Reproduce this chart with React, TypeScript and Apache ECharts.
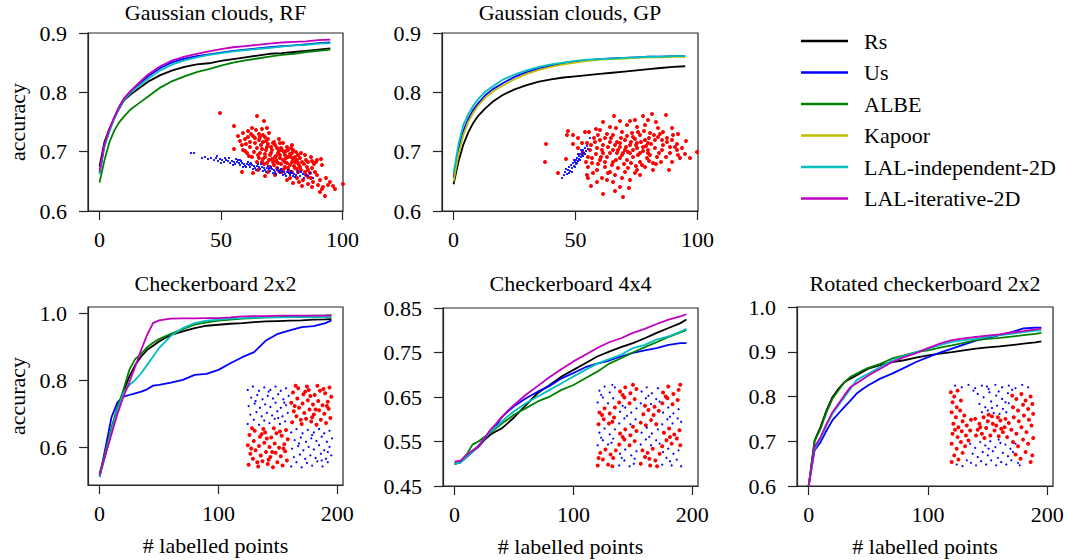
import React, { useEffect, useRef } from 'react';
import * as echarts from 'echarts';

// ---------- names & colours ----------
const METHODS = ['Rs', 'Us', 'ALBE', 'Kapoor', 'LAL-independent-2D', 'LAL-iterative-2D'];
const METHOD_COLORS: Record<string, string> = {
  'Rs': '#000000',
  'Us': '#0000ff',
  'ALBE': '#008000',
  'Kapoor': '#bfbf00',
  'LAL-independent-2D': '#00bfbf',
  'LAL-iterative-2D': '#bf00bf',
};
const TITLES = ['Gaussian clouds, RF', 'Gaussian clouds, GP', 'Checkerboard 2x2', 'Checkerboard 4x4', 'Rotated checkerboard 2x2'];

// ---------- x samples ----------
const xTop = [0, 2, 4, 6, 8, 10, 13, 16, 20, 25, 30, 35, 40, 45, 50, 55, 60, 65, 70, 75, 80, 85, 90, 95];
const xBottom = [0, 5, 10, 15, 20, 25, 30, 35, 40, 45, 50, 60, 70, 80, 90, 100, 110, 120, 130, 140, 150, 160, 170, 180, 190, 195];

// ---------- tick values ----------
const topXTicks = [0, 50, 100];
const bottomXTicks = [0, 100, 200];
const topYTicks = [0.6, 0.7, 0.8, 0.9];
const cb2YTicks = [0.6, 0.8, 1.0];
const cb4YTicks = [0.45, 0.55, 0.65, 0.75, 0.85];
const rotYTicks = [0.6, 0.7, 0.8, 0.9, 1.0];

// ---------- Gaussian clouds, RF ----------
const rfRs = [0.675, 0.716, 0.738, 0.756, 0.772, 0.786, 0.797, 0.806, 0.818, 0.829, 0.837, 0.843, 0.847, 0.849, 0.853, 0.856, 0.859, 0.862, 0.865, 0.866, 0.868, 0.870, 0.872, 0.874];
const rfUs = [0.664, 0.710, 0.735, 0.757, 0.775, 0.789, 0.803, 0.813, 0.827, 0.841, 0.851, 0.857, 0.861, 0.864, 0.867, 0.870, 0.872, 0.874, 0.876, 0.878, 0.879, 0.881, 0.883, 0.884];
const rfALBE = [0.648, 0.685, 0.715, 0.735, 0.749, 0.759, 0.772, 0.781, 0.793, 0.808, 0.819, 0.827, 0.834, 0.839, 0.845, 0.850, 0.854, 0.857, 0.860, 0.863, 0.865, 0.868, 0.870, 0.872];
const rfLALind = [0.662, 0.708, 0.733, 0.755, 0.773, 0.787, 0.800, 0.810, 0.823, 0.837, 0.847, 0.854, 0.859, 0.863, 0.866, 0.869, 0.871, 0.873, 0.875, 0.877, 0.879, 0.880, 0.882, 0.883];
const rfLALiter = [0.667, 0.712, 0.737, 0.757, 0.775, 0.789, 0.803, 0.815, 0.830, 0.844, 0.854, 0.860, 0.865, 0.869, 0.873, 0.876, 0.878, 0.880, 0.882, 0.884, 0.885, 0.886, 0.888, 0.889];

// ---------- Gaussian clouds, GP ----------
const gpRs = [0.645, 0.683, 0.712, 0.732, 0.748, 0.760, 0.773, 0.784, 0.795, 0.805, 0.812, 0.818, 0.822, 0.825, 0.827, 0.829, 0.831, 0.833, 0.835, 0.837, 0.839, 0.841, 0.843, 0.844];
const gpUs = [0.656, 0.703, 0.735, 0.755, 0.770, 0.781, 0.795, 0.805, 0.815, 0.826, 0.834, 0.840, 0.845, 0.849, 0.852, 0.854, 0.856, 0.857, 0.858, 0.859, 0.860, 0.860, 0.861, 0.861];
const gpKapoor = [0.650, 0.695, 0.728, 0.750, 0.765, 0.777, 0.791, 0.801, 0.811, 0.822, 0.831, 0.838, 0.843, 0.847, 0.850, 0.853, 0.855, 0.856, 0.857, 0.858, 0.859, 0.859, 0.860, 0.860];
const gpLALind = [0.664, 0.712, 0.745, 0.763, 0.777, 0.788, 0.801, 0.810, 0.821, 0.830, 0.837, 0.843, 0.847, 0.850, 0.853, 0.855, 0.856, 0.857, 0.858, 0.859, 0.860, 0.860, 0.861, 0.861];

// ---------- Checkerboard 2x2 ----------
const cb2Rs = [0.520, 0.580, 0.650, 0.710, 0.767, 0.812, 0.847, 0.872, 0.892, 0.904, 0.917, 0.937, 0.947, 0.957, 0.964, 0.967, 0.970, 0.972, 0.975, 0.977, 0.978, 0.979, 0.980, 0.982, 0.983, 0.984];
const cb2Us = [0.512, 0.600, 0.690, 0.735, 0.752, 0.757, 0.762, 0.767, 0.774, 0.785, 0.787, 0.794, 0.802, 0.817, 0.820, 0.832, 0.852, 0.870, 0.885, 0.920, 0.940, 0.950, 0.960, 0.963, 0.972, 0.980];
const cb2ALBE = [0.520, 0.590, 0.660, 0.720, 0.772, 0.832, 0.865, 0.880, 0.900, 0.913, 0.924, 0.940, 0.954, 0.967, 0.974, 0.979, 0.982, 0.985, 0.987, 0.989, 0.990, 0.992, 0.993, 0.994, 0.995, 0.996];
const cb2LALind = [0.512, 0.580, 0.650, 0.710, 0.762, 0.787, 0.802, 0.822, 0.847, 0.872, 0.897, 0.934, 0.957, 0.972, 0.979, 0.982, 0.985, 0.987, 0.988, 0.989, 0.989, 0.990, 0.990, 0.990, 0.990, 0.990];
const cb2LALiter = [0.517, 0.580, 0.640, 0.700, 0.752, 0.795, 0.842, 0.892, 0.937, 0.972, 0.980, 0.985, 0.986, 0.986, 0.987, 0.987, 0.989, 0.992, 0.993, 0.993, 0.994, 0.994, 0.994, 0.994, 0.994, 0.994];

// ---------- Checkerboard 4x4 ----------
const cb4Rs = [0.500, 0.503, 0.515, 0.527, 0.538, 0.553, 0.565, 0.573, 0.580, 0.592, 0.604, 0.632, 0.659, 0.677, 0.696, 0.711, 0.726, 0.741, 0.752, 0.762, 0.771, 0.782, 0.794, 0.805, 0.816, 0.824];
const cb4Us = [0.500, 0.503, 0.515, 0.528, 0.540, 0.556, 0.570, 0.585, 0.606, 0.618, 0.629, 0.647, 0.662, 0.675, 0.692, 0.704, 0.717, 0.725, 0.732, 0.741, 0.749, 0.755, 0.760, 0.767, 0.771, 0.771];
const cb4ALBE = [0.500, 0.505, 0.520, 0.543, 0.550, 0.560, 0.569, 0.580, 0.591, 0.600, 0.610, 0.625, 0.640, 0.651, 0.666, 0.677, 0.692, 0.707, 0.725, 0.737, 0.750, 0.762, 0.773, 0.785, 0.795, 0.801];
const cb4LALind = [0.500, 0.503, 0.515, 0.528, 0.540, 0.556, 0.572, 0.583, 0.595, 0.607, 0.618, 0.636, 0.651, 0.666, 0.681, 0.696, 0.711, 0.725, 0.735, 0.745, 0.760, 0.767, 0.779, 0.786, 0.797, 0.803];
const cb4LALiter = [0.505, 0.507, 0.520, 0.530, 0.539, 0.557, 0.576, 0.590, 0.606, 0.620, 0.632, 0.655, 0.675, 0.695, 0.713, 0.730, 0.745, 0.760, 0.773, 0.782, 0.794, 0.803, 0.814, 0.824, 0.831, 0.836];

// ---------- Rotated checkerboard 2x2 ----------
const rotRs = [0.600, 0.702, 0.732, 0.769, 0.799, 0.817, 0.832, 0.840, 0.847, 0.855, 0.862, 0.870, 0.877, 0.881, 0.887, 0.892, 0.896, 0.899, 0.903, 0.907, 0.910, 0.912, 0.915, 0.918, 0.921, 0.923];
const rotUs = [0.600, 0.680, 0.698, 0.724, 0.747, 0.762, 0.777, 0.791, 0.806, 0.816, 0.825, 0.840, 0.851, 0.864, 0.877, 0.888, 0.898, 0.907, 0.916, 0.925, 0.931, 0.937, 0.944, 0.952, 0.954, 0.954];
const rotALBE = [0.600, 0.700, 0.728, 0.765, 0.795, 0.814, 0.832, 0.844, 0.851, 0.858, 0.864, 0.873, 0.885, 0.892, 0.899, 0.903, 0.909, 0.914, 0.920, 0.926, 0.929, 0.931, 0.934, 0.937, 0.940, 0.942];
const rotLALind = [0.600, 0.683, 0.706, 0.736, 0.762, 0.780, 0.799, 0.817, 0.836, 0.844, 0.851, 0.866, 0.881, 0.890, 0.899, 0.907, 0.915, 0.922, 0.926, 0.929, 0.933, 0.937, 0.940, 0.944, 0.947, 0.948];
const rotLALiter = [0.600, 0.687, 0.709, 0.739, 0.765, 0.784, 0.803, 0.821, 0.829, 0.838, 0.847, 0.862, 0.877, 0.888, 0.897, 0.908, 0.918, 0.926, 0.930, 0.933, 0.936, 0.939, 0.943, 0.946, 0.950, 0.952];

// ---------- inset datasets (2-D feature coordinates) ----------
const rfRed = [[40,87],[77,84],[84,79],[54,74],[63,67],[68,69],[72,72],[76,70],[82,71],[87,72],[89,67],[68,63],[73,64],[80,63],[70,58],[75,57],[83,58],[88,61],[93,57],[100,57],[103,57],[62,55],[63,50],[77,52],[82,51],[87,53],[92,50],[97,52],[102,50],[107,53],[112,55],[113,50],[54,51],[67,47],[72,43],[80,47],[85,43],[90,45],[95,43],[98,47],[100,42],[105,45],[108,43],[112,47],[115,43],[118,45],[125,45],[77,38],[82,38],[87,37],[93,38],[98,37],[103,40],[107,37],[112,38],[117,40],[122,38],[128,38],[132,39],[137,40],[90,33],[97,32],[102,30],[108,32],[115,32],[120,33],[127,33],[132,32],[142,35],[62,28],[73,27],[88,28],[102,28],[112,28],[118,28],[125,28],[130,27],[135,28],[107,20],[110,22],[117,22],[123,20],[128,23],[133,18],[122,14],[132,13],[138,15],[143,13],[148,15],[153,14],[142,11],[145,4],[163,16],[95,55],[99,49],[104,48],[108,50],[110,46],[96,40],[100,45],[105,38],[110,35],[113,41],[118,37],[94,35],[89,40],[85,46],[91,53],[86,59],[79,60],[83,65],[75,62],[70,53],[66,56],[78,45],[83,41],[120,42],[124,36],[117,31],[105,33],[99,29],[128,30],[134,36],[86,50],[91,47],[96,44],[101,52],[106,49],[111,52],[116,48],[121,47],[92,41],[97,38],[101,36],[106,42],[111,43],[115,38],[119,35],[126,40],[131,43],[136,38],[141,41],[84,36],[79,42],[74,48],[69,44],[65,49],[81,55],[88,56],[94,58],[99,61],[85,63],[79,66],[71,66],[65,61],[60,59],[58,64],[104,31],[109,29],[114,34],[121,30],[126,25],[131,22],[137,25],[140,20],[146,22],[150,18],[155,11],[140,8],[128,16],[119,18],[113,17],[95,25],[85,24],[78,30]];
const rfBlue = [[11,47],[14,47],[22,42],[25,43],[28,41],[31,42],[34,40],[36,42],[38,39],[40,41],[42,40],[44,38],[46,40],[48,39],[50,37],[52,39],[54,38],[55,36],[57,38],[59,37],[60,35],[62,37],[64,36],[65,34],[67,36],[69,35],[70,33],[72,35],[74,34],[75,32],[77,34],[79,33],[80,31],[82,33],[84,32],[85,30],[87,32],[89,31],[90,29],[92,31],[94,30],[95,28],[97,30],[99,29],[100,27],[102,29],[104,28],[105,26],[107,28],[109,27],[110,25],[112,27],[114,26],[116,25],[118,27],[120,24],[123,26],[126,25],[130,27],[133,22],[45,42],[58,40],[68,38],[78,36],[88,34],[98,32],[108,30],[118,29],[63,33],[73,31],[83,29],[93,27],[103,25],[113,24],[37,44],[41,37],[49,42],[53,35],[56,41],[61,39],[66,33],[71,37],[76,30],[81,36],[86,28],[91,33],[96,26],[101,31],[106,24],[111,29],[115,23],[121,28],[124,22],[128,24],[60,40],[70,36],[90,32],[100,29],[110,27]];
const gpRed = [[16,56],[15,38],[28,27],[36,41],[38,69],[37,65],[43,65],[48,62],[43,56],[52,57],[55,68],[57,57],[66,71],[73,78],[84,84],[100,79],[113,84],[122,86],[136,85],[86,72],[97,75],[107,73],[115,75],[128,72],[133,68],[143,65],[68,65],[75,62],[83,65],[92,68],[102,67],[110,65],[120,67],[128,63],[137,62],[60,50],[67,52],[72,50],[78,53],[83,50],[90,53],[95,50],[100,55],[107,52],[113,53],[118,50],[125,52],[132,50],[140,53],[147,50],[62,42],[70,40],[77,43],[83,38],[90,42],[97,40],[103,43],[110,38],[117,42],[123,37],[58,33],[67,30],[75,33],[80,28],[88,32],[98,32],[107,30],[115,33],[123,30],[63,27],[72,22],[83,18],[92,22],[100,20],[110,25],[78,27],[90,13],[73,6],[93,3],[139,30],[150,42],[160,42],[167,48],[140,47],[148,45],[127,43],[133,55],[145,53],[87,58],[95,60],[105,61],[115,60],[80,58],[73,55],[65,58],[58,43],[57,25],[58,22],[70,70],[107,57],[118,57],[93,47],[87,47],[100,47],[80,47],[73,47],[110,47],[120,45],[132,60],[125,60],[85,55],[90,57],[96,53],[101,58],[106,55],[111,58],[116,54],[121,56],[88,50],[92,45],[98,48],[103,50],[108,45],[113,49],[118,47],[91,62],[97,64],[103,63],[108,68],[114,69],[119,62],[124,65],[130,66],[137,58],[142,60],[147,56],[152,52],[155,46],[81,62],[77,66],[70,60],[64,62],[61,55],[66,46],[71,43],[75,38],[82,35],[86,40],[94,36],[101,37],[106,34],[112,35],[119,39],[126,36],[131,38],[136,43],[142,38],[129,47],[68,36],[62,37],[56,38],[53,47],[48,52],[59,68],[80,73],[90,79],[105,80],[118,80],[126,78],[142,72],[148,66],[156,59],[105,27],[95,28],[85,25],[77,20],[67,18],[61,14],[85,9],[99,12]];
const gpBlue = [[32,22],[34,25],[35,28],[37,26],[38,30],[39,33],[40,29],[41,35],[42,32],[43,37],[44,34],[45,38],[46,36],[46,40],[47,42],[48,39],[49,44],[49,41],[50,46],[51,43],[52,48],[52,45],[53,50],[54,47],[55,52],[56,49],[57,54],[58,51],[60,62],[44,40],[47,37],[50,40],[53,44],[55,46],[42,28],[39,27],[36,31],[45,33],[51,50],[48,46]];
const cb2Red = [[3,5],[8,12],[14,3],[19,9],[25,6],[31,2],[36,8],[42,4],[47,10],[5,18],[11,22],[17,16],[23,20],[28,14],[34,19],[40,15],[45,21],[2,28],[9,33],[15,27],[21,31],[27,26],[33,30],[38,25],[44,29],[48,35],[4,40],[10,45],[16,38],[22,43],[29,37],[35,42],[41,39],[46,46],[7,48],[20,47],[32,48],[13,8],[26,11],[39,44],[24,36],[43,24],[6,24],[30,20],[18,41],[53,55],[58,62],[64,53],[69,59],[75,56],[81,52],[86,58],[92,54],[97,60],[55,68],[61,72],[67,66],[73,70],[78,64],[84,69],[90,65],[95,71],[52,78],[59,83],[65,77],[71,81],[77,76],[83,80],[88,75],[94,79],[98,85],[54,90],[60,95],[66,88],[72,93],[79,87],[85,92],[91,89],[96,96],[57,98],[70,97],[82,98],[63,58],[76,61],[89,94],[74,86],[93,74],[56,74],[80,70],[68,91]];
const cb2Blue = [[2,53],[9,58],[15,52],[21,57],[27,54],[33,59],[39,53],[45,56],[5,64],[12,67],[18,62],[24,66],[30,63],[36,68],[42,62],[48,66],[3,74],[10,77],[16,72],[22,76],[28,73],[34,78],[40,72],[46,75],[6,84],[13,87],[19,82],[25,86],[31,83],[37,88],[43,82],[49,86],[2,93],[8,97],[15,92],[21,96],[28,93],[34,97],[40,92],[46,95],[11,80],[37,60],[26,91],[44,78],[52,3],[58,8],[64,2],[70,7],[76,4],[82,9],[88,3],[94,8],[55,14],[62,17],[68,12],[74,16],[80,13],[86,18],[92,12],[98,16],[53,24],[60,27],[66,22],[72,26],[78,23],[84,28],[90,22],[96,26],[56,34],[63,37],[69,32],[75,36],[81,33],[87,38],[93,32],[99,36],[52,43],[58,47],[65,42],[71,46],[78,43],[84,47],[90,42],[96,45],[61,30],[87,10],[76,40],[94,20]];
const cb4Red = [[2,3],[8,10],[14,4],[20,12],[5,18],[11,22],[17,16],[23,21],[3,12],[19,2],[52,5],[57,13],[63,3],[69,9],[74,17],[54,21],[60,18],[66,23],[71,2],[62,11],[27,28],[33,34],[39,27],[45,32],[28,41],[34,46],[40,39],[47,44],[31,37],[43,49],[77,26],[82,33],[88,29],[94,35],[98,27],[79,42],[85,47],[91,40],[97,45],[86,37],[3,52],[9,58],[15,53],[21,60],[4,66],[10,71],[16,65],[22,72],[7,63],[19,55],[52,54],[58,51],[64,57],[70,52],[55,64],[61,69],[67,63],[73,68],[57,74],[68,73],[27,78],[33,84],[39,77],[45,82],[28,91],[34,96],[40,89],[47,94],[31,87],[43,99],[77,77],[83,83],[89,76],[95,81],[78,90],[84,97],[90,88],[96,93],[81,85],[98,99]];
const cb4Blue = [[27,3],[33,9],[39,2],[45,11],[28,17],[34,22],[41,15],[47,20],[30,12],[44,5],[77,4],[82,12],[88,3],[94,10],[78,19],[84,23],[90,17],[96,21],[86,8],[99,2],[2,27],[8,33],[14,28],[20,35],[4,42],[10,47],[16,40],[22,46],[6,36],[18,30],[52,28],[58,34],[64,27],[70,33],[53,42],[59,48],[65,41],[72,46],[62,37],[74,29],[27,53],[33,59],[40,52],[46,58],[28,67],[34,72],[41,66],[47,71],[36,62],[31,74],[77,52],[83,58],[89,53],[95,59],[78,66],[84,72],[90,65],[96,70],[86,61],[99,55],[2,78],[8,84],[14,77],[20,83],[4,92],[10,97],[16,90],[22,96],[6,87],[19,99],[52,77],[58,83],[64,76],[70,82],[53,91],[59,96],[65,89],[72,95],[61,86],[74,79]];
const rotRed = [[1,90],[5,85],[9,92],[3,78],[8,72],[13,80],[2,66],[7,60],[12,68],[17,62],[4,52],[10,48],[15,55],[20,50],[25,57],[3,40],[9,36],[14,43],[19,38],[24,44],[2,28],[8,22],[13,30],[18,25],[5,14],[10,9],[2,6],[15,17],[22,32],[6,45],[30,58],[35,52],[40,60],[45,55],[50,61],[55,50],[60,56],[65,48],[70,53],[33,45],[38,40],[43,47],[48,38],[53,44],[58,37],[63,42],[68,36],[31,38],[46,63],[57,60],[66,58],[41,35],[51,52],[61,46],[36,48],[74,86],[79,82],[85,88],[90,80],[96,85],[75,72],[81,68],[87,75],[93,70],[98,76],[76,60],[82,55],[88,62],[94,57],[99,64],[73,45],[79,40],[85,48],[91,42],[97,50],[75,30],[81,25],[87,33],[93,28],[99,35],[78,15],[84,10],[90,18],[96,6],[98,14]];
const rotBlue = [[6,98],[14,96],[22,99],[30,95],[38,98],[46,94],[54,99],[62,96],[70,98],[78,95],[86,99],[93,96],[33,88],[40,84],[47,90],[55,86],[62,82],[69,89],[35,76],[42,72],[49,79],[56,74],[63,70],[70,77],[38,66],[45,68],[52,65],[59,64],[67,66],[28,92],[44,97],[58,91],[66,78],[74,93],[50,71],[24,28],[30,23],[36,30],[42,26],[48,31],[54,24],[60,29],[66,27],[72,22],[78,28],[27,16],[33,12],[39,18],[45,14],[51,19],[57,11],[63,17],[69,13],[75,18],[81,5],[25,5],[31,2],[37,7],[43,3],[49,8],[55,2],[61,6],[67,3],[73,8],[83,2],[8,3],[15,1],[20,8],[46,22],[58,33]];

// ---------- layout / styles ----------
const FONT = "'Liberation Serif', 'Times New Roman', 'DejaVu Serif', serif";
const FS = 22;
const AX = '#262626';

type Panel = {
  xs: number[];
  lines: [string, number[]][];
  xMin: number; xMax: number; xTicks: number[];
  yMin: number; yMax: number; yTicks: number[]; dec: number;
  grid: { left: number; top: number; width: number; height: number };
  yName: boolean; xName: boolean;
  inset: { left: number; top: number; width: number; height: number; xMax: number; yMax: number; red: number[][]; blue: number[][] };
  titleY: number;
};

const panels: Panel[] = [
  {
    xs: xTop,
    lines: [['Rs', rfRs], ['Us', rfUs], ['ALBE', rfALBE], ['LAL-independent-2D', rfLALind], ['LAL-iterative-2D', rfLALiter]],
    xMin: -4.75, xMax: 100.25, xTicks: topXTicks, yMin: 0.6, yMax: 0.9, yTicks: topYTicks, dec: 1,
    grid: { left: 88, top: 33, width: 255, height: 178 }, yName: true, xName: false,
    inset: { left: 180, top: 100, width: 170, height: 100, xMax: 170, yMax: 100, red: rfRed, blue: rfBlue },
    titleY: 1,
  },
  {
    xs: xTop,
    lines: [['Rs', gpRs], ['Us', gpUs], ['Kapoor', gpKapoor], ['LAL-independent-2D', gpLALind]],
    xMin: -4.75, xMax: 100.25, xTicks: topXTicks, yMin: 0.6, yMax: 0.9, yTicks: topYTicks, dec: 1,
    grid: { left: 442, top: 33, width: 256, height: 178 }, yName: false, xName: false,
    inset: { left: 530, top: 100, width: 170, height: 100, xMax: 170, yMax: 100, red: gpRed, blue: gpBlue },
    titleY: 1,
  },
  {
    xs: xBottom,
    lines: [['Rs', cb2Rs], ['Us', cb2Us], ['ALBE', cb2ALBE], ['LAL-independent-2D', cb2LALind], ['LAL-iterative-2D', cb2LALiter]],
    xMin: -9.75, xMax: 204.75, xTicks: bottomXTicks, yMin: 0.488, yMax: 1.02, yTicks: cb2YTicks, dec: 1,
    grid: { left: 88, top: 307, width: 255, height: 178 }, yName: true, xName: true,
    inset: { left: 246, top: 384, width: 87, height: 85, xMax: 100, yMax: 100, red: cb2Red, blue: cb2Blue },
    titleY: 272,
  },
  {
    xs: xBottom,
    lines: [['Rs', cb4Rs], ['Us', cb4Us], ['ALBE', cb4ALBE], ['LAL-independent-2D', cb4LALind], ['LAL-iterative-2D', cb4LALiter]],
    xMin: -9.75, xMax: 204.75, xTicks: bottomXTicks, yMin: 0.45, yMax: 0.85, yTicks: cb4YTicks, dec: 2,
    grid: { left: 443, top: 308, width: 255, height: 178 }, yName: false, xName: true,
    inset: { left: 596, top: 384, width: 86, height: 84, xMax: 100, yMax: 100, red: cb4Red, blue: cb4Blue },
    titleY: 272,
  },
  {
    xs: xBottom,
    lines: [['Rs', rotRs], ['Us', rotUs], ['ALBE', rotALBE], ['LAL-independent-2D', rotLALind], ['LAL-iterative-2D', rotLALiter]],
    xMin: -9.75, xMax: 204.75, xTicks: bottomXTicks, yMin: 0.6, yMax: 1.0, yTicks: rotYTicks, dec: 1,
    grid: { left: 797, top: 307, width: 256, height: 179 }, yName: false, xName: true,
    inset: { left: 950, top: 384, width: 84, height: 83, xMax: 100, yMax: 100, red: rotRed, blue: rotBlue },
    titleY: 272,
  },
];

function buildOption() {
  const grid: any[] = [];
  const xAxis: any[] = [];
  const yAxis: any[] = [];
  const series: any[] = [];
  const graphic: any[] = [];
  const txt = { fontFamily: FONT, fontSize: FS, color: '#000' };

  panels.forEach((p, i) => {
    grid.push({ ...p.grid, show: true, borderColor: AX, borderWidth: 1.2, backgroundColor: 'transparent', containLabel: false });
    xAxis.push({
      type: 'value', gridIndex: i, min: p.xMin, max: p.xMax,
      axisLine: { show: true, onZero: false, lineStyle: { color: AX, width: 1.2 } },
      axisTick: { show: true, length: 9, customValues: p.xTicks, lineStyle: { color: AX, width: 1.2 } },
      axisLabel: { ...txt, margin: 17, customValues: p.xTicks, formatter: (v: number) => String(v) },
      splitLine: { show: false },
      name: p.xName ? '# labelled points' : '', nameLocation: 'middle', nameGap: 49,
      nameTextStyle: { ...txt },
    });
    yAxis.push({
      type: 'value', gridIndex: i, min: p.yMin, max: p.yMax,
      axisLine: { show: true, onZero: false, lineStyle: { color: AX, width: 1.2 } },
      axisTick: { show: true, length: 9, customValues: p.yTicks, lineStyle: { color: AX, width: 1.2 } },
      axisLabel: { ...txt, margin: 21, customValues: p.yTicks, formatter: (v: number) => v.toFixed(p.dec) },
      splitLine: { show: false },
      name: p.yName ? 'accuracy' : '', nameLocation: 'middle', nameGap: 60, nameRotate: 90,
      nameTextStyle: { ...txt },
    });
    graphic.push({
      type: 'text', x: p.grid.left + p.grid.width / 2, y: p.titleY, silent: true,
      style: { text: TITLES[i], fontFamily: FONT, fontSize: FS, fill: '#000', align: 'center', verticalAlign: 'top' },
    });
  });

  // inset grids
  panels.forEach((p, i) => {
    const gi = panels.length + i;
    const ins = p.inset;
    grid.push({ left: ins.left, top: ins.top, width: ins.width, height: ins.height, show: false });
    xAxis.push({ type: 'value', gridIndex: gi, min: 0, max: ins.xMax, show: false });
    yAxis.push({ type: 'value', gridIndex: gi, min: 0, max: ins.yMax, show: false });
    series.push({
      type: 'scatter', name: 'class 1', xAxisIndex: gi, yAxisIndex: gi, data: ins.red,
      symbol: 'circle', symbolSize: 4, itemStyle: { color: '#ff0000', opacity: 1 }, silent: true, z: 1,
    });
    series.push({
      type: 'scatter', name: 'class 2', xAxisIndex: gi, yAxisIndex: gi, data: ins.blue,
      symbol: 'circle', symbolSize: 2.2, itemStyle: { color: '#0000ff', opacity: 1 }, silent: true, z: 1,
    });
  });

  panels.forEach((p, i) => {
    p.lines.forEach(([name, ys]) => {
      series.push({
        type: 'line', name, xAxisIndex: i, yAxisIndex: i,
        data: p.xs.map((x, k) => [x, ys[k]]),
        symbol: 'none', showSymbol: false, smooth: false,
        lineStyle: { color: METHOD_COLORS[name], width: 1.8 },
        itemStyle: { color: METHOD_COLORS[name] },
        z: 3 + METHODS.indexOf(name),
      });
    });
  });

  return {
    animation: false,
    backgroundColor: '#ffffff',
    grid, xAxis, yAxis, series, graphic,
    legend: {
      data: METHODS.map((m) => ({ name: m, icon: 'rect' })),
      orient: 'vertical', left: 796, top: 25,
      itemWidth: 47, itemHeight: 2.5, itemGap: 9.5,
      textStyle: { fontFamily: FONT, fontSize: FS, color: '#000', padding: [0, 0, 0, 11], lineHeight: 22 },
      selectedMode: false,
    },
  };
}

export default function App() {
  const ref = useRef<HTMLDivElement>(null);
  useEffect(() => {
    if (!ref.current) return;
    const chart = echarts.init(ref.current, undefined, { renderer: 'svg' });
    chart.setOption(buildOption() as any);
    return () => chart.dispose();
  }, []);
  return <div ref={ref} style={{ width: 1068, height: 560, position: 'absolute', left: 0, top: 0 }} />;
}
